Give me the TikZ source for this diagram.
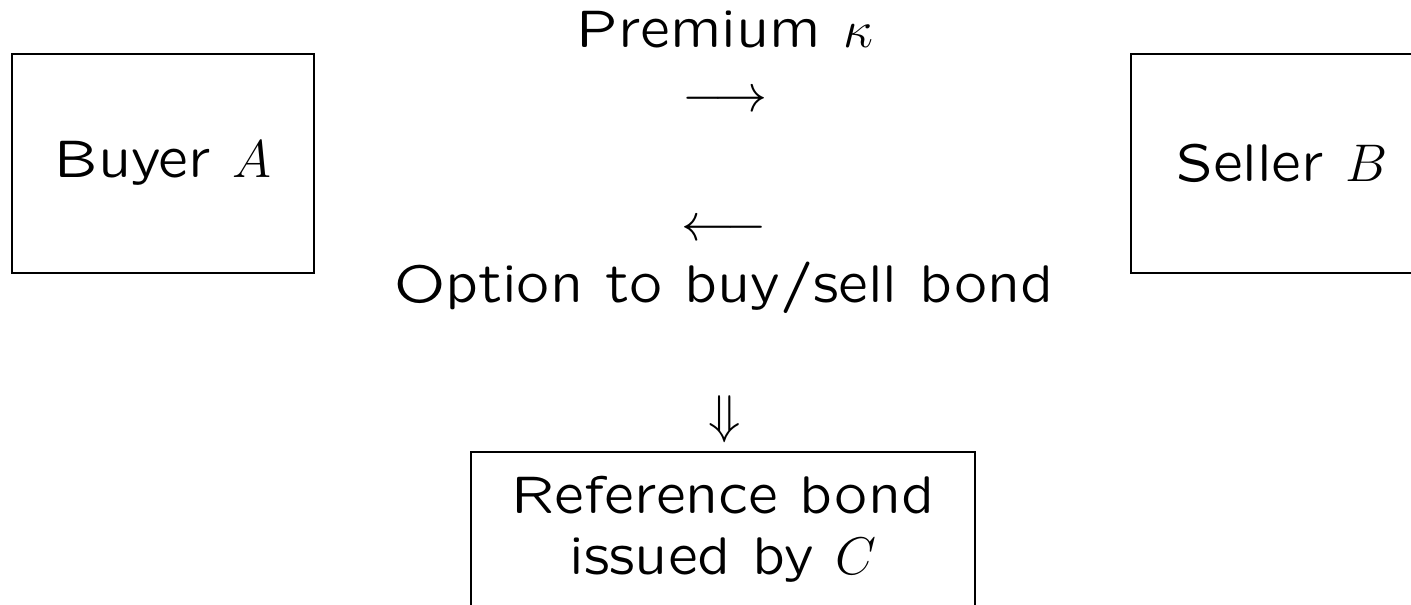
\RequirePackage{fix-cm}
\documentclass[tikz,border=0pt]{standalone}
\usepackage{fontspec}
\usepackage{tikz}
\usetikzlibrary{positioning}
\newfontfamily\quotsans{lmsansquot8-regular.otf}
\newcommand{\slidefont}{\quotsans\fontsize{26.5}{30.5}\selectfont}
\tikzset{
  party/.style={draw, line width=1.1pt, minimum width=151pt, minimum height=109.5pt, inner sep=0pt, font=\slidefont},
  refbox/.style={draw, line width=1.1pt, anchor=north, minimum width=252pt, inner xsep=0pt, inner ysep=12pt, align=center, font=\slidefont},
  txt/.style={inner sep=0pt, anchor=base, font=\slidefont}
}
\begin{document}
\begin{tikzpicture}[x=0.5pt, y=-0.5pt]
\useasboundingbox (0,0) rectangle (1411,604);
\clip (0,0) rectangle (1411,604);
\node[party] (buyer) at (163,163.5) {Buyer $A$};
\node[party] (seller) at (1282,163.5) {Seller $B$};
\node[txt] (premium) at (725,48) {Premium $\kappa$};
\node[txt] (pay) at (725,112) {$\longrightarrow$};
\node[txt] (deliver) at (724,240) {$\longleftarrow$};
\node[txt] (option) at (724,302) {Option to buy/sell bond};
\node[txt] (down) at (725,432) {$\Downarrow$};
\node[refbox] (bond) at (723,451) {Reference bond\\issued by $C$\rule[-20pt]{0pt}{0pt}};
\end{tikzpicture}
\end{document}
